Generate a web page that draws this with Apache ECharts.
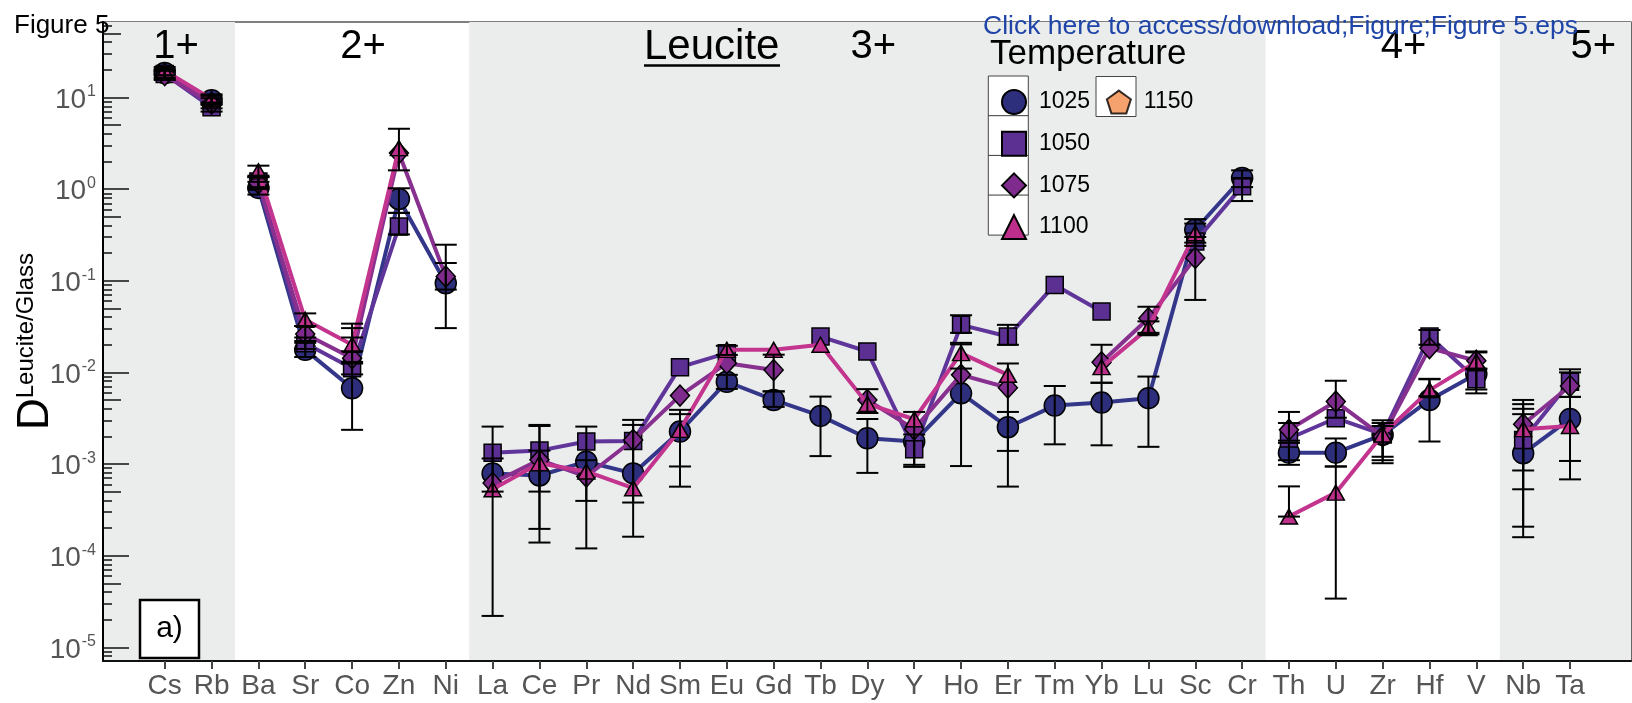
<!DOCTYPE html>
<html><head><meta charset="utf-8">
<script src="https://cdn.jsdelivr.net/npm/echarts@6/dist/echarts.min.js"></script>
<style>html,body{margin:0;padding:0;background:#fff}#c{width:1632px;height:703px}</style>
</head><body><div id="c"></div>
<script>
// ---------------- data ----------------
const categories = ['Cs','Rb','Ba','Sr','Co','Zn','Ni','La','Ce','Pr','Nd','Sm','Eu','Gd','Tb','Dy','Y','Ho','Er','Tm','Yb','Lu','Sc','Cr','Th','U','Zr','Hf','V','Nb','Ta'];
const groupNames = ['1+','2+','3+','4+','5+'];
const groupSizes = [2,5,17,5,2];
const temperatures = ['1025','1050','1075','1100','1150'];

const d1025 = [18.5,9.3, 1.03,0.0176,0.0067,0.78,0.094, 0.00079,0.00075,0.00106,0.00079,0.00226,0.0079,0.0050,0.00335,0.00191,0.00176,0.0059,0.00252,0.00434,0.00468,0.00523,0.36,1.32, 0.00133,0.00133,0.00208,0.0050,0.0096, 0.00131,0.0031];
const d1050 = [18.0,7.8, 1.21,0.0208,0.0111,0.39,null, 0.00133,0.0014,0.00176,0.00178,0.0114,0.0162,null,0.0246,0.0169,0.00145,0.033,0.0246,0.090,0.0461,null,0.268,1.07, 0.0019,0.00316,0.0021,0.0246,0.0084, 0.00183,0.0079];
const d1075 = [17.5,8.6, 1.16,0.0262,0.0143,2.47,0.111, 0.00062,0.00111,0.00073,0.00183,0.00558,0.0126,0.0106,null,0.0050,0.0024,0.0094,0.0068,null,0.0129,0.039,0.177,null, 0.00236,0.0048,0.0020,0.0184,0.0134, 0.00272,0.0071];
const d1100 = [19.5,9.6, 1.56,0.0374,0.0200,2.8,null, 0.00053,0.00102,0.00083,0.000545,0.00236,0.0176,0.0176,0.0200,0.00453,0.00308,0.0162,0.0094,null,0.0114,0.0304,0.33,null, 0.000267,0.000487,0.0021,0.0064,0.0131, 0.0024,0.0026];
const d1150 = [];

// error bars (low / high), null = none
const lo1025 = [16.5,8.3, 0.87,0.0147,0.00236,0.55,0.0304, 0.0005,0.000139,0.00012,0.000161,0.000566,0.0066,0.0042,0.00122,0.0008,0.00093,0.00095,0.000567,0.00164,0.0016,0.00154,0.26,1.05, 0.00098,0.00094,0.00102,0.00176,0.0059, 0.000159,0.00068];
const hi1025 = [20.5,10.4, 1.2,0.021,0.034,1.02,0.156, 0.00115,0.00267,0.00256,0.00303,0.0039,0.0094,0.0062,0.00544,0.0031,0.0037,0.0202,0.0037,0.0071,0.0077,0.009,0.47,1.6, 0.0018,0.0019,0.0028,0.0084,0.0169, 0.005,0.0054];
const lo1050 = [16.0,7.0, 1.05,0.018,0.0095,0.32,null, null,0.000196,null,null,null,null,null,null,null,0.00098,0.027,0.02,null,null,null,null,0.74, 0.0011,null,0.0011,0.02,0.0065, 0.000207,0.00108];
const hi1050 = [20.0,8.8, 1.4,0.024,0.013,0.55,null, null,0.0026,null,null,null,null,null,null,null,0.0021,0.042,0.033,null,null,null,null,1.3, 0.0028,null,0.0026,0.029,0.0108, 0.0045,0.0108];
const lo1075 = [15.5,7.6, 1.0,0.022,0.0125,null,0.08, null,null,null,null,null,null,0.0062,null,0.0036,null,null,0.00139,null,0.0077,0.027,0.0617,null, 0.0017,0.0032,null,null,null, 0.00085,0.0054];
const hi1075 = [19.5,9.8, 1.35,0.032,0.0304,null,0.247, null,null,null,null,null,null,0.0156,null,0.00656,null,null,0.0125,null,0.02,0.052,0.3,null, 0.0037,0.0081,null,null,null, 0.004,0.01];
const lo1100 = [17.5,8.5, 1.35,0.032,0.017,1.6,null, 0.000022,0.0005,0.000396,0.00038,0.00094,0.0155,null,null,null,null,0.011,null,null,null,0.026,0.24,null, 0.000267,0.000034,0.0012,0.0055,0.011, 0.00053,null];
const hi1100 = [21.5,10.8, 1.8,0.044,0.024,4.55,null, 0.00256,0.0014,0.0011,0.00267,0.0035,0.0195,null,null,null,null,0.021,null,null,null,0.036,0.42,null, 0.00057,0.00094,0.0030,0.0085,0.0165, 0.0035,null];

// axis tick values
const yMajorTicks = [1e-5,1e-4,1e-3,1e-2,1e-1,1,10];

// ---------------- styles ----------------
const FONT = "'Liberation Sans', Arial, Helvetica, sans-serif";
const Y_MIN = 7.09e-6, Y_MAX = 66.5;
const X_MIN = -1.3175, X_MAX = 31.302;
const fillC = ['#2d2e7c','#5c2f93','#7e2b8d','#bd2f8b','#f48b4a'];
const lineC = ['#34368a','#60359a','#87308f','#c3348e','#f48b4a'];
const PENT = 'path://M12,0 L23.4,8.3 L19.1,21.7 L4.9,21.7 L0.6,8.3 Z';
const symbols = ['circle','rect','diamond','triangle',PENT];
const symSizes = [21,17,[19,21],[17,15],20];
const SHADE = '#ebedec';
const groupShade = [SHADE,'rgba(0,0,0,0)',SHADE,'rgba(0,0,0,0)',SHADE];
const groupLabelDx = [7,11,6,21,28];

// minor tick values
const yFiveTicks = [], yMinorTicks = [];
for (let k = -6; k <= 1; k++) {
  for (let m = 2; m <= 9; m++) {
    const v = m * Math.pow(10, k);
    if (v < Y_MIN || v > Y_MAX) continue;
    (m === 5 ? yFiveTicks : yMinorTicks).push(v);
  }
}
const catIdx = categories.map((c, i) => i);

// group boundaries
const bounds = [X_MIN];
{ let acc = 0; groupSizes.forEach((s, g) => { acc += s; bounds.push(g === groupSizes.length - 1 ? X_MAX : acc - 0.5); }); }

function lineData(vals) {
  const out = [];
  let acc = 0;
  groupSizes.forEach((s, g) => {
    for (let i = acc; i < acc + s; i++) out.push([i, vals[i] == null ? null : vals[i]]);
    acc += s;
    if (g < groupSizes.length - 1) out.push([acc - 0.5, null]);
  });
  return out;
}
function errData(lo, hi) {
  const out = [];
  lo.forEach((l, i) => { if (l != null && hi[i] != null) out.push([i, l, hi[i]]); });
  return out;
}
function renderErr(params, api) {
  const x = api.value(0), lo = api.value(1), hi = api.value(2);
  const a = api.coord([x, lo]), b = api.coord([x, hi]);
  const w = 11;
  const st = {stroke: '#000', lineWidth: 2};
  return {type: 'group', children: [
    {type: 'line', shape: {x1: a[0], y1: a[1], x2: b[0], y2: b[1]}, style: st},
    {type: 'line', shape: {x1: a[0]-w, y1: a[1], x2: a[0]+w, y2: a[1]}, style: st},
    {type: 'line', shape: {x1: b[0]-w, y1: b[1], x2: b[0]+w, y2: b[1]}, style: st}
  ]};
}

const values = [d1025, d1050, d1075, d1100];
const los = [lo1025, lo1050, lo1075, lo1100];
const his = [hi1025, hi1050, hi1075, hi1100];

const series = [];
series.push({
  type: 'line', name: 'bands', data: [], z: 1, silent: true,
  markArea: {
    silent: true,
    data: groupNames.map((gname, g) => [
      {xAxis: bounds[g], itemStyle: {color: groupShade[g]},
       label: {show: true, formatter: gname, position: 'insideTop', distance: 5, offset: [groupLabelDx[g], 0],
               fontSize: 40, fontFamily: FONT, color: '#000'}},
      {xAxis: bounds[g+1]}
    ])
  }
});
values.forEach((vals, s) => {
  series.push({
    type: 'line', name: temperatures[s], data: lineData(vals), z: 3 + s,
    symbol: symbols[s], symbolSize: symSizes[s], showAllSymbol: true,
    lineStyle: {color: lineC[s], width: 4},
    itemStyle: {color: fillC[s], borderColor: '#000', borderWidth: 1.5},
    emphasis: {disabled: true}, animation: false
  });
});
series.push({
  type: 'scatter', name: '1150', data: d1150, symbol: PENT, symbolSize: 20,
  itemStyle: {color: fillC[4], borderColor: '#000', borderWidth: 1}
});
values.forEach((vals, s) => {
  series.push({
    type: 'custom', name: 'err' + temperatures[s], data: errData(los[s], his[s]),
    renderItem: renderErr, encode: {x: 0, y: [1, 2]}, z: 20, silent: true, animation: false
  });
});

function logAxis(ticks, len, extra) {
  return Object.assign({
    type: 'log', min: Y_MIN, max: Y_MAX, logBase: 10, z: 30, position: 'left', offset: 0,
    axisLine: {show: false, onZero: false},
    axisTick: {show: true, inside: true, length: len, customValues: ticks, lineStyle: {color: '#111', width: 1.5}},
    axisLabel: {show: false},
    splitLine: {show: false}, minorTick: {show: false}
  }, extra || {});
}

const option = {
  animation: false,
  backgroundColor: '#fff',
  textStyle: {fontFamily: FONT},
  grid: {left: 103, right: 1, top: 22, bottom: 42, show: true, borderColor: '#000', borderWidth: 1.2,
         backgroundColor: '#fff', containLabel: false, outerBoundsMode: 'none'},
  xAxis: {
    type: 'value', min: X_MIN, max: X_MAX, z: 30,
    axisLine: {show: true, onZero: false, lineStyle: {color: '#111', width: 2}},
    axisTick: {show: true, inside: false, length: 8, customValues: catIdx, lineStyle: {color: '#444', width: 2}},
    axisLabel: {show: true, customValues: catIdx, formatter: v => categories[Math.round(v)] || '',
                fontSize: 28, color: '#555', margin: 11, fontFamily: FONT},
    splitLine: {show: false}
  },
  yAxis: [
    logAxis(yMajorTicks, 26, {
      axisLine: {show: true, onZero: false, lineStyle: {color: '#000', width: 2}},
      axisLabel: {show: true, customValues: yMajorTicks, margin: 7,
        formatter: v => '{b|10}{e|' + Math.round(Math.log10(v)) + '}',
        rich: {b: {fontSize: 28, color: '#555', fontFamily: FONT, padding: [5, 0, 0, 0]},
               e: {fontSize: 16, color: '#555', fontFamily: FONT, verticalAlign: 'top', padding: [3, 0, 0, 1]}}},
      name: '{d|D}{s|Leucite/Glass}', nameLocation: 'middle', nameRotate: 90, nameGap: 45, nameMoveOverlap: false,
      nameTextStyle: {rich: {d: {fontSize: 44, color: '#000', fontFamily: FONT},
                             s: {fontSize: 24, color: '#000', fontFamily: FONT, verticalAlign: 'top'}}}
    }),
    logAxis(yFiveTicks, 18),
    logAxis(yMinorTicks, 9)
  ],
  legend: {
    orient: 'vertical', left: 996, top: 84, height: 170,
    itemWidth: 24, itemHeight: 24, itemGap: 15.7, selectedMode: false,
    data: temperatures.map((t, s) => ({name: t, icon: symbols[s]})),
    textStyle: {fontSize: 23, lineHeight: 24, color: '#000', fontFamily: FONT, padding: [0, 0, 0, 8]}
  },
  graphic: [
    {type: 'text', left: 14, top: 13, style: {text: 'Figure 5', font: '26px ' + FONT, fill: '#000'}, z: 50},
    {type: 'text', left: 983, top: 13, style: {text: 'Click here to access/download;Figure;Figure 5.eps', font: '26.5px ' + FONT, fill: '#1f45a8'}, z: 50},
    {type: 'text', left: 644, top: 26, style: {text: 'Leucite', font: '42px ' + FONT, fill: '#000'}, z: 50},
    {type: 'line', shape: {x1: 644, y1: 65.5, x2: 780, y2: 65.5}, style: {stroke: '#000', lineWidth: 2.5}, z: 50},
    {type: 'text', left: 990, top: 37, style: {text: 'Temperature', font: '35px ' + FONT, fill: '#000'}, z: 50},
    {type: 'rect', shape: {x: 988.3, y: 76, width: 40, height: 40}, style: {fill: '#fff', stroke: '#444', lineWidth: 1}, z: 3},
    {type: 'rect', shape: {x: 988.3, y: 115.7, width: 40, height: 40}, style: {fill: '#fff', stroke: '#444', lineWidth: 1}, z: 3},
    {type: 'rect', shape: {x: 988.3, y: 155.4, width: 40, height: 40}, style: {fill: '#fff', stroke: '#444', lineWidth: 1}, z: 3},
    {type: 'rect', shape: {x: 988.3, y: 195.1, width: 40, height: 40}, style: {fill: '#fff', stroke: '#444', lineWidth: 1}, z: 3},
    {type: 'rect', shape: {x: 1096, y: 76.5, width: 40, height: 40}, style: {fill: '#fff', stroke: '#444', lineWidth: 1}, z: 3},
    {type: 'rect', shape: {x: 140, y: 600, width: 59, height: 58}, style: {fill: '#fff', stroke: '#000', lineWidth: 2.5}, z: 50},
    {type: 'text', x: 169.5, y: 629, style: {text: 'a)', font: '30px ' + FONT, fill: '#000', textAlign: 'center', textVerticalAlign: 'middle'}, z: 51}
  ],
  series: series
};
const chart = echarts.init(document.getElementById('c'), null, {renderer: 'canvas'});
chart.setOption(option);
</script></body></html>
